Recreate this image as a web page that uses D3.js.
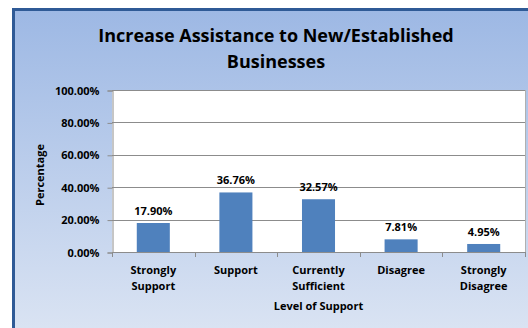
<!DOCTYPE html>
<html>
<head>
<meta charset="utf-8">
<script src="https://cdn.jsdelivr.net/npm/d3@7"></script>
<style>
  html, body { margin: 0; padding: 0; background: #ffffff; }
  svg { display: block; }
  text { font-family: "Open Sans", Lato, sans-serif; font-weight: bold; fill: #000; }
</style>
</head>
<body>
<script>
// Survey responses: level of support for increasing assistance
const categories = [["Strongly", "Support"], ["Support"], ["Currently", "Sufficient"], ["Disagree"], ["Strongly", "Disagree"]];
const values = [17.90, 36.76, 32.57, 7.81, 4.95];
const yTicks = [0, 20, 40, 60, 80, 100];
const titleLines = ["Increase Assistance to New/Established", "Businesses"];
const xTitle = "Level of Support";
const yTitle = "Percentage";

const W = 528, H = 328;
const plot = { left: 112, top: 90, right: 525, bottom: 252 };

const svg = d3.select("body").append("svg").attr("width", W).attr("height", H);

const defs = svg.append("defs");
const grad = defs.append("linearGradient").attr("id", "bg").attr("x1", 0).attr("y1", 0).attr("x2", 0).attr("y2", 1);
grad.append("stop").attr("offset", "0%").attr("stop-color", "#9db8e4");
grad.append("stop").attr("offset", "100%").attr("stop-color", "#dfe7f4");

// chart area with dark blue frame
svg.append("rect")
  .attr("x", 13.5).attr("y", 9.5).attr("width", W + 20).attr("height", H + 20)
  .attr("fill", "url(#bg)").attr("stroke", "#2f5a96").attr("stroke-width", 3);

const x = d3.scaleBand().domain(d3.range(values.length)).range([plot.left, plot.right]).paddingInner(0.6).paddingOuter(0.3);
const y = d3.scaleLinear().domain([0, 100]).range([plot.bottom, plot.top]);

// plot area
svg.append("rect")
  .attr("x", plot.left).attr("y", plot.top)
  .attr("width", plot.right - plot.left).attr("height", plot.bottom - plot.top)
  .attr("fill", "#ffffff");

// gridlines
svg.append("g").selectAll("line").data(yTicks.slice(1)).join("line")
  .attr("x1", plot.left).attr("x2", plot.right)
  .attr("y1", d => Math.round(y(d)) + 0.5).attr("y2", d => Math.round(y(d)) + 0.5)
  .attr("stroke", "#8c8c8c").attr("stroke-width", 1);

// right border of plot area
svg.append("line")
  .attr("x1", plot.right + 0.5).attr("x2", plot.right + 0.5)
  .attr("y1", plot.top).attr("y2", plot.bottom)
  .attr("stroke", "#b0b0b0");

// y axis
const yAxis = d3.axisLeft(y).tickValues(yTicks).tickSize(5).tickPadding(8).tickFormat(d => d.toFixed(2) + "%");
const gy = svg.append("g").attr("transform", `translate(${plot.left + 0.5},0.5)`).call(yAxis);
gy.select(".domain").attr("stroke", "#8c8c8c");
gy.selectAll(".tick line").attr("stroke", "#8c8c8c");
gy.selectAll(".tick text").style("font-size", "11px").style("font-family", "'Open Sans', sans-serif").style("font-weight", "bold");

// x axis with category boundary ticks
const xStep = (plot.right - plot.left) / values.length;
svg.append("line")
  .attr("x1", plot.left).attr("x2", plot.right)
  .attr("y1", plot.bottom + 0.5).attr("y2", plot.bottom + 0.5)
  .attr("stroke", "#8c8c8c");
svg.append("g").selectAll("line").data(d3.range(values.length + 1)).join("line")
  .attr("x1", i => Math.round(plot.left + i * xStep) + 0.5)
  .attr("x2", i => Math.round(plot.left + i * xStep) + 0.5)
  .attr("y1", plot.bottom).attr("y2", plot.bottom + 5)
  .attr("stroke", "#8c8c8c");

// bars
svg.append("g").selectAll("rect").data(values).join("rect")
  .attr("x", (d, i) => x(i)).attr("y", d => y(d))
  .attr("width", x.bandwidth()).attr("height", d => plot.bottom - y(d))
  .attr("fill", "#4f81bd");

// value labels
svg.append("g").selectAll("text").data(values).join("text")
  .attr("x", (d, i) => x(i) + x.bandwidth() / 2)
  .attr("y", d => y(d) - 8)
  .attr("text-anchor", "middle")
  .style("font-size", "11px")
  .text(d => d.toFixed(2) + "%");

// category labels
const cat = svg.append("g").selectAll("text").data(categories).join("text")
  .attr("x", (d, i) => x(i) + x.bandwidth() / 2)
  .attr("y", 274)
  .attr("text-anchor", "middle")
  .style("font-size", "11px");
cat.selectAll("tspan").data(d => d).join("tspan")
  .attr("x", function () { return this.parentNode.getAttribute("x"); })
  .attr("dy", (d, i) => i === 0 ? 0 : 16)
  .text(d => d);

// axis titles
svg.append("text")
  .attr("x", (plot.left + plot.right) / 2).attr("y", 310)
  .attr("text-anchor", "middle").style("font-size", "11px")
  .text(xTitle);
svg.append("text")
  .attr("transform", `translate(44,${(plot.top + plot.bottom) / 2 + 4}) rotate(-90)`)
  .attr("text-anchor", "middle").style("font-size", "11px")
  .text(yTitle);

// chart title
svg.append("g").selectAll("text").data(titleLines).join("text")
  .attr("x", 276).attr("y", (d, i) => 42 + i * 26)
  .attr("text-anchor", "middle").style("font-size", "18px")
  .text(d => d);
</script>
</body>
</html>
